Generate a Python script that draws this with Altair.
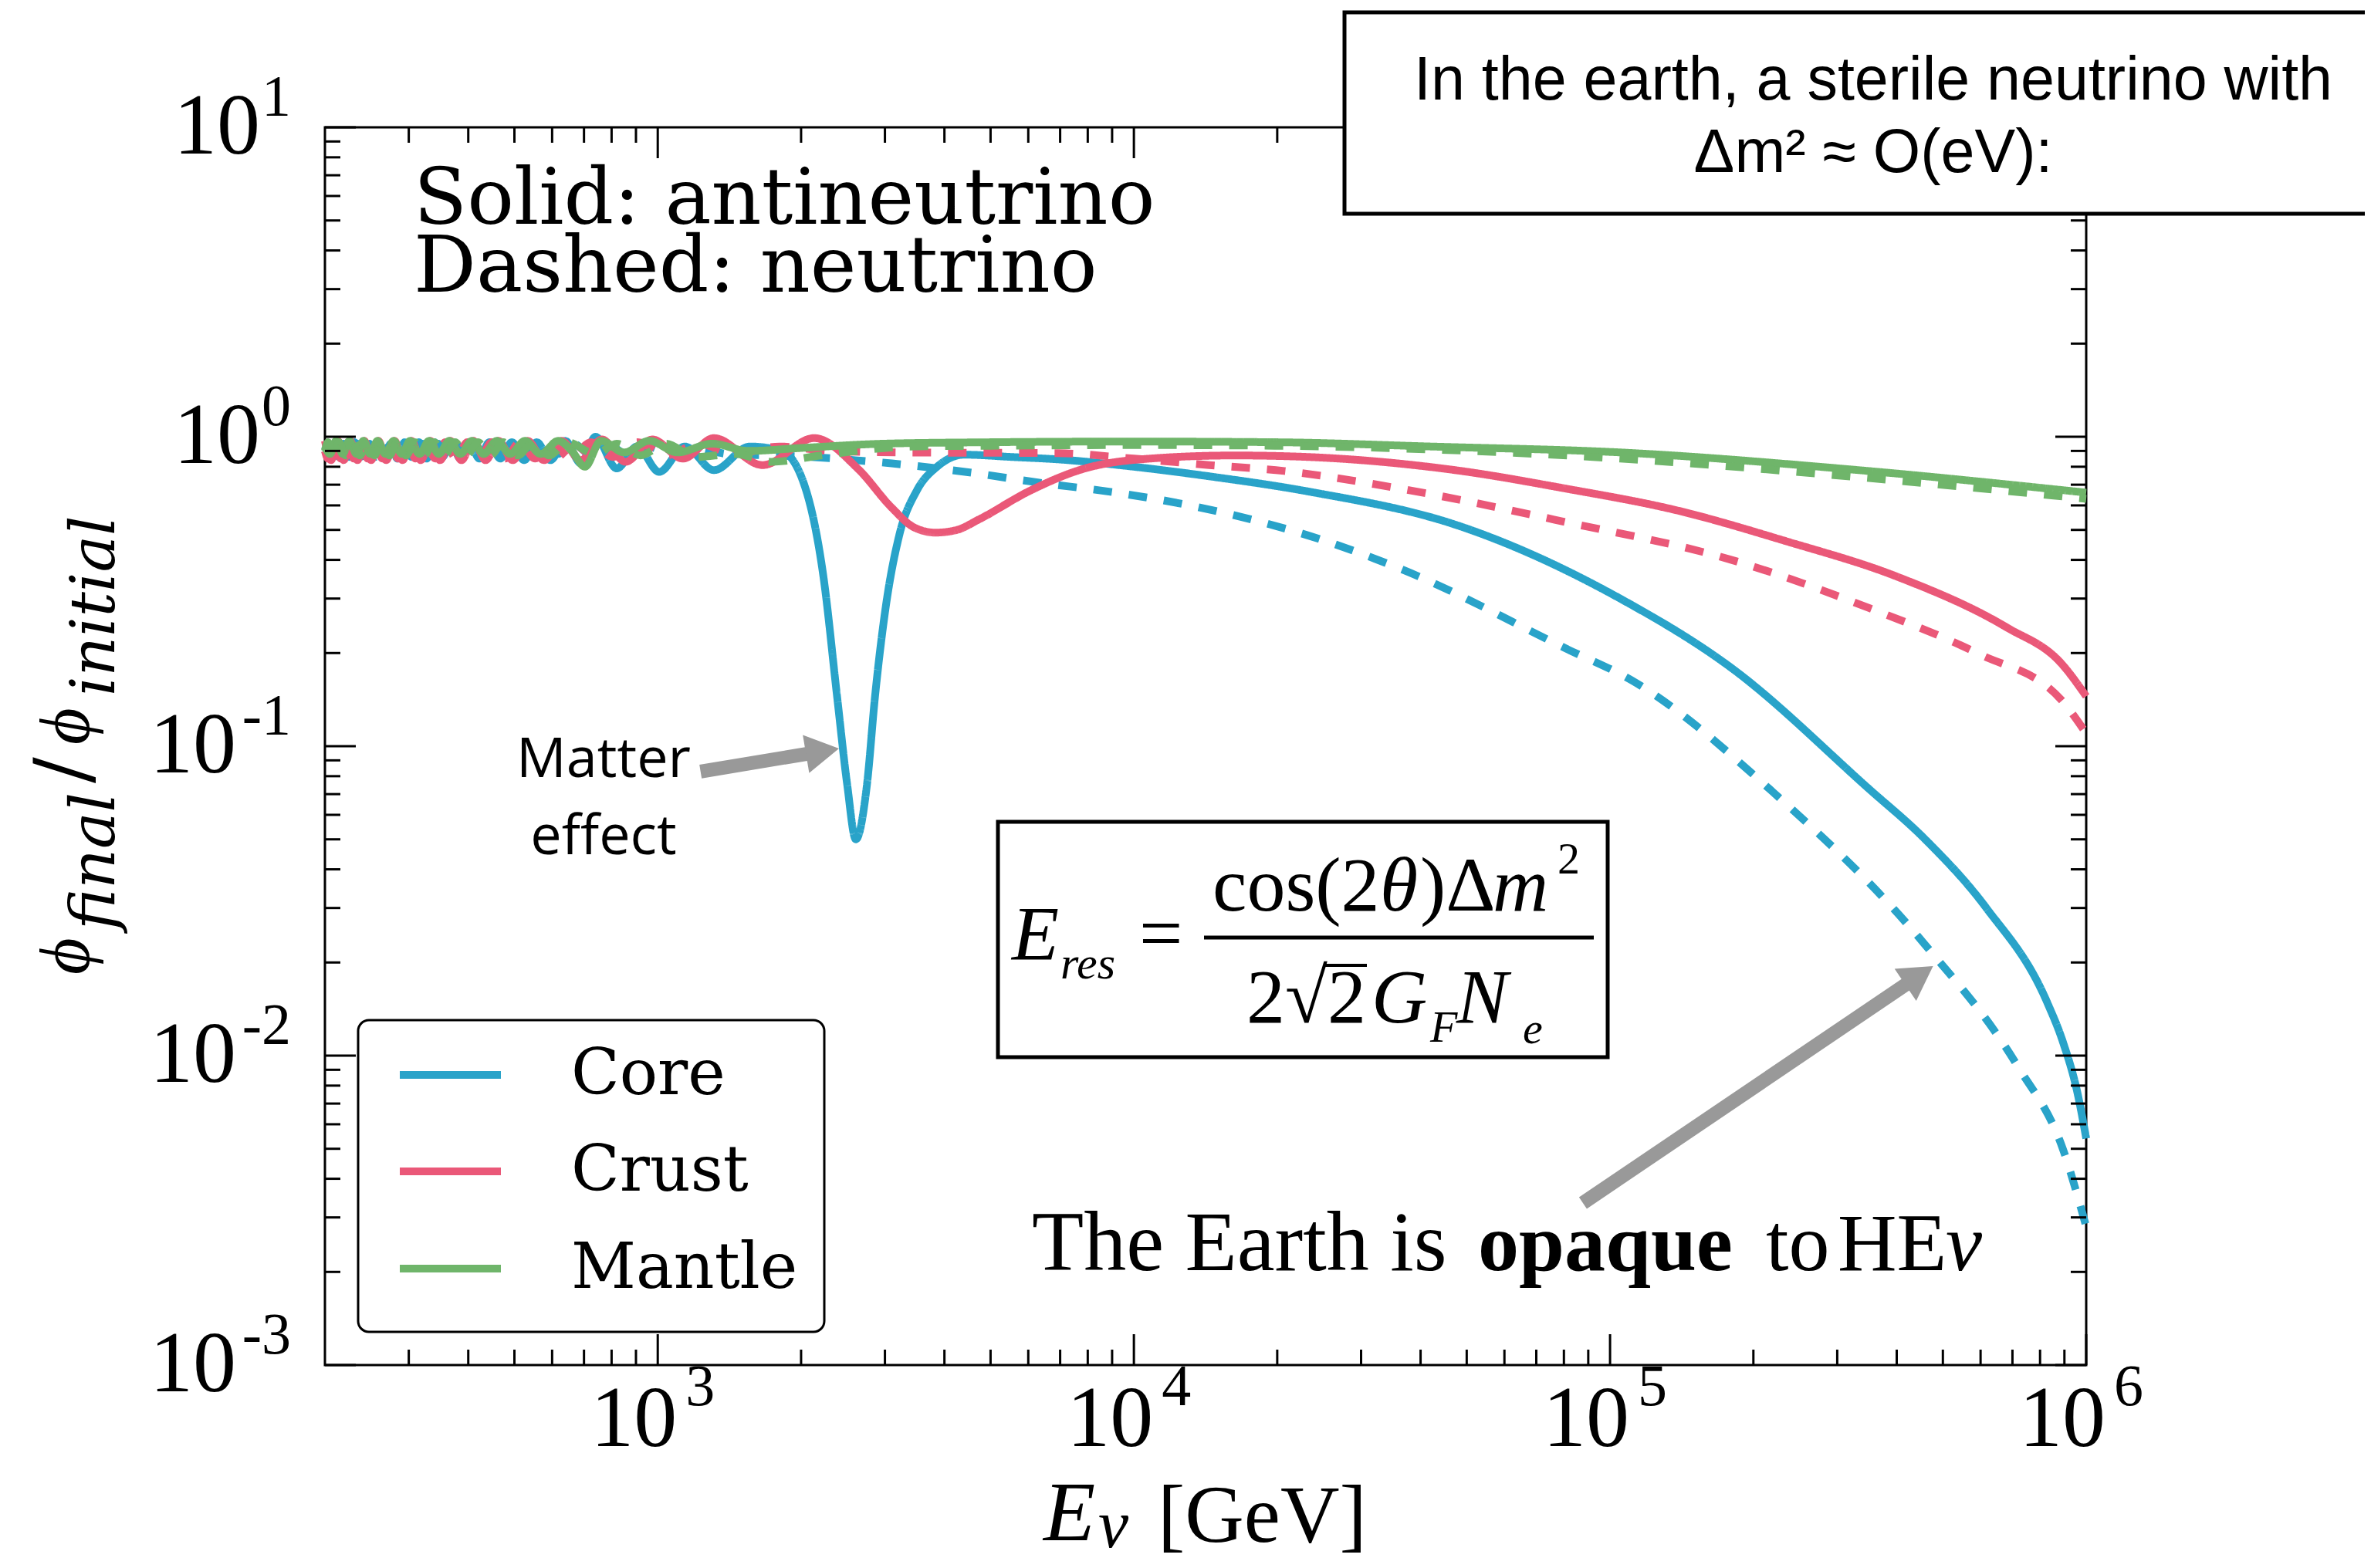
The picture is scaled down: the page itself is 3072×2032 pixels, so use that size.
import altair as alt
import pandas as pd

# ---------------- data ----------------
regions = ["Core", "Crust", "Mantle"]
region_colors = ["#29a3c9", "#ea5878", "#6fb56a"]
kinds = ["antineutrino", "neutrino"]

core_anti_E = [200, 204, 209, 214, 219, 225, 231, 238, 244, 251, 259, 267, 275, 284, 294, 304, 315,
               327, 340, 353, 368, 385, 402, 422, 443, 467, 494, 524, 557, 595, 639, 690, 740, 820,
               905, 1007, 1140, 1312, 1560, 1820, 2050, 2230, 2380, 2500, 2606, 2750, 2860, 3010,
               3220, 3500, 3860, 4400, 5560, 6930, 10000, 14400, 23300, 47300, 105000, 179000,
               349000, 459000, 617000, 829000, 893000, 960000, 1000000]
core_anti_r = [0.90, 0.86, 0.95, 0.86, 0.95, 0.86, 0.96, 0.86, 0.95, 0.85, 0.96, 0.86, 0.95, 0.85,
               0.96, 0.86, 0.96, 0.85, 0.96, 0.86, 0.96, 0.85, 0.96, 0.85, 0.96, 0.85, 0.96, 0.84,
               0.96, 0.84, 0.97, 0.82, 1.0, 0.79, 0.93, 0.77, 0.93, 0.78, 0.93, 0.90, 0.67, 0.35,
               0.145, 0.075, 0.05, 0.075, 0.145, 0.28, 0.485, 0.67, 0.80, 0.875, 0.86, 0.845, 0.80,
               0.745, 0.665, 0.52, 0.30, 0.18, 0.073, 0.050, 0.030, 0.0148, 0.0111, 0.0075, 0.0054]

core_nu_E = [200, 206, 211, 216, 222, 228, 234, 241, 248, 255, 263, 271, 280, 289, 299, 310, 321,
             333, 346, 360, 376, 393, 412, 432, 455, 480, 509, 540, 576, 617, 665, 720, 780, 860,
             950, 1070, 1200, 1400, 1735, 2100, 2600, 3100, 4420, 6360, 9160, 13100, 18500, 22200,
             36200, 80700, 112000, 220000, 459000, 716000, 893000, 1000000]
core_nu_r = [0.93, 0.86, 0.95, 0.87, 0.95, 0.86, 0.95, 0.87, 0.95, 0.86, 0.95, 0.87, 0.95, 0.86,
             0.95, 0.87, 0.95, 0.86, 0.95, 0.87, 0.95, 0.87, 0.95, 0.87, 0.95, 0.87, 0.95, 0.87,
             0.95, 0.88, 0.95, 0.88, 0.95, 0.88, 0.93, 0.88, 0.92, 0.88, 0.87, 0.86, 0.84, 0.82,
             0.77, 0.71, 0.66, 0.60, 0.53, 0.49, 0.375, 0.207, 0.162, 0.071, 0.0228, 0.0093,
             0.0050, 0.0028]

crust_anti_E = [200, 206, 213, 219, 226, 234, 242, 250, 259, 269, 280, 291, 304, 318, 333, 349, 367,
                387, 410, 435, 463, 496, 533, 577, 628, 689, 763, 856, 974, 1130, 1312, 1660, 2130,
                2640, 3100, 3450, 3830, 4250, 4720, 6060, 7780, 10800, 16300, 23300, 47300, 80700,
                137000, 234000, 399000, 681000, 887000, 1000000]
crust_anti_r = [0.97, 0.84, 0.97, 0.84, 0.97, 0.84, 0.97, 0.84, 0.97, 0.84, 0.97, 0.84, 0.97, 0.84,
                0.97, 0.84, 0.97, 0.84, 0.97, 0.84, 0.97, 0.84, 0.97, 0.84, 0.97, 0.84, 0.98, 0.83,
                0.98, 0.85, 0.99, 0.81, 0.99, 0.785, 0.59, 0.51, 0.49, 0.50, 0.54, 0.67, 0.785, 0.85,
                0.87, 0.86, 0.78, 0.68, 0.58, 0.46, 0.354, 0.242, 0.185, 0.145]

crust_nu_E = [200, 203, 209, 216, 223, 230, 238, 246, 255, 264, 274, 285, 297, 310, 325, 341, 358,
              377, 398, 422, 448, 478, 513, 553, 600, 656, 723, 805, 907, 1040, 1220, 1450, 1800,
              2300, 3270, 6930, 10000, 14400, 20700, 36200, 80700, 180000, 349000, 594000, 887000,
              1000000]
crust_nu_r = [0.90, 0.85, 0.96, 0.85, 0.96, 0.85, 0.96, 0.85, 0.96, 0.85, 0.96, 0.85, 0.96, 0.85,
              0.96, 0.85, 0.96, 0.85, 0.96, 0.85, 0.96, 0.85, 0.96, 0.85, 0.96, 0.85, 0.96, 0.86,
              0.96, 0.87, 0.95, 0.88, 0.93, 0.90, 0.89, 0.885, 0.85, 0.81, 0.775, 0.68, 0.53, 0.40,
              0.28, 0.199, 0.141, 0.11]

mantle_anti_E = [200, 205, 211, 218, 225, 233, 241, 249, 258, 268, 279, 290, 302, 316, 331, 347, 365,
                 385, 407, 431, 459, 490, 526, 568, 618, 660, 703, 760, 850, 960, 1100, 1300, 1550,
                 2000, 3000, 5000, 10000, 20000, 42000, 105000, 333000, 1000000]
mantle_anti_r = [0.93, 0.88, 0.97, 0.88, 0.97, 0.88, 0.97, 0.88, 0.97, 0.88, 0.97, 0.88, 0.97, 0.88,
                 0.97, 0.88, 0.97, 0.88, 0.97, 0.88, 0.97, 0.88, 0.97, 0.88, 0.97, 0.90, 0.80, 0.97,
                 0.89, 0.97, 0.89, 0.95, 0.90, 0.92, 0.95, 0.96, 0.965, 0.96, 0.93, 0.89, 0.78, 0.66]

mantle_nu_E = [200, 203, 208, 214, 221, 229, 237, 245, 254, 263, 273, 284, 296, 309, 323, 339, 356,
               375, 396, 419, 445, 474, 508, 547, 592, 645, 740, 820, 920, 1040, 1200, 1450, 1735,
               2200, 3400, 5000, 10000, 20000, 42000, 105000, 333000, 1000000]
mantle_nu_r = [0.90, 0.96, 0.87, 0.96, 0.87, 0.96, 0.87, 0.96, 0.87, 0.96, 0.87, 0.96, 0.87, 0.96,
               0.87, 0.96, 0.87, 0.96, 0.87, 0.96, 0.87, 0.96, 0.87, 0.96, 0.87, 0.96, 0.88, 0.95,
               0.87, 0.95, 0.86, 0.88, 0.83, 0.87, 0.93, 0.935, 0.94, 0.935, 0.91, 0.85, 0.74, 0.63]

x_major = [1e3, 1e4, 1e5, 1e6]
x_major_exp = ["3", "4", "5", "6"]
x_minor = [300, 400, 500, 600, 700, 800, 900,
           2000, 3000, 4000, 5000, 6000, 7000, 8000, 9000,
           20000, 30000, 40000, 50000, 60000, 70000, 80000, 90000,
           200000, 300000, 400000, 500000, 600000, 700000, 800000, 900000]
y_major = [10, 1, 0.1, 0.01, 0.001]
y_major_exp = ["1", "0", "-1", "-2", "-3"]
y_minor = [0.002, 0.003, 0.004, 0.005, 0.006, 0.007, 0.008, 0.009,
           0.02, 0.03, 0.04, 0.05, 0.06, 0.07, 0.08, 0.09,
           0.2, 0.3, 0.4, 0.5, 0.6, 0.7, 0.8, 0.9,
           2, 3, 4, 5, 6, 7, 8, 9]

# arrows (data coordinates: start, head centre)
matter_arrow = [1230, 0.0828, 2218, 0.0963]
opaque_arrow = [87700, 0.00334, 446000, 0.01816]

series = [
    ("Core", "antineutrino", core_anti_E, core_anti_r),
    ("Core", "neutrino", core_nu_E, core_nu_r),
    ("Crust", "antineutrino", crust_anti_E, crust_anti_r),
    ("Crust", "neutrino", crust_nu_E, crust_nu_r),
    ("Mantle", "antineutrino", mantle_anti_E, mantle_anti_r),
    ("Mantle", "neutrino", mantle_nu_E, mantle_nu_r),
]
rows = []
for reg, kind, es, rs in series:
    for e, r in zip(es, rs):
        rows.append({"E": e, "ratio": r, "region": reg, "kind": kind, "series": reg + "-" + kind})
df = pd.DataFrame(rows)

# ---------------- chart ----------------
W, H = 2282, 1604
xs = alt.Scale(type="log", domain=[200, 1e6], nice=False)
ys = alt.Scale(type="log", domain=[1e-3, 10], nice=False)
one = pd.DataFrame({"a": [0]})
SERIF = "Liberation Serif"

layers = []

for reg in regions:
    layers.append(
        alt.Chart(df).transform_filter(alt.datum.region == reg)
        .mark_line(strokeWidth=10, interpolate="monotone")
        .encode(
            x=alt.X("E:Q", scale=xs, axis=None),
            y=alt.Y("ratio:Q", scale=ys, axis=None),
            color=alt.Color("region:N", scale=alt.Scale(domain=regions, range=region_colors), legend=None),
            strokeDash=alt.StrokeDash("kind:N", scale=alt.Scale(domain=kinds, range=[[1, 0], [24, 22]]),
                                      legend=None),
            detail="series:N",
        )
    )

# ticks (inward, all four sides)
xmaj_df = pd.DataFrame({"v": x_major, "e": x_major_exp})
xmin_df = pd.DataFrame({"v": x_minor})
ymaj_df = pd.DataFrame({"v": y_major, "e": y_major_exp})
ymin_df = pd.DataFrame({"v": y_minor})
MAJ, MIN = 40, 20
for d, L in [(xmaj_df, MAJ), (xmin_df, MIN)]:
    layers.append(alt.Chart(d).mark_rule(color="black", strokeWidth=3).encode(
        x=alt.X("v:Q", scale=xs, axis=None), y=alt.value(H), y2=alt.value(H - L)))
    layers.append(alt.Chart(d).mark_rule(color="black", strokeWidth=3).encode(
        x=alt.X("v:Q", scale=xs, axis=None), y=alt.value(0), y2=alt.value(L)))
for d, L in [(ymaj_df, MAJ), (ymin_df, MIN)]:
    layers.append(alt.Chart(d).mark_rule(color="black", strokeWidth=3).encode(
        y=alt.Y("v:Q", scale=ys, axis=None), x=alt.value(0), x2=alt.value(L)))
    layers.append(alt.Chart(d).mark_rule(color="black", strokeWidth=3).encode(
        y=alt.Y("v:Q", scale=ys, axis=None), x=alt.value(W), x2=alt.value(W - L)))

# tick labels: "10" with a raised exponent
layers.append(alt.Chart(xmaj_df).mark_text(text="10", align="center", baseline="alphabetic", dx=-31,
                                           font=SERIF, fontSize=112, color="black").encode(
    x=alt.X("v:Q", scale=xs, axis=None), y=alt.value(H + 105)))
layers.append(alt.Chart(xmaj_df).mark_text(align="left", baseline="alphabetic", dx=36, font=SERIF,
                                           fontSize=76, color="black").encode(
    x=alt.X("v:Q", scale=xs, axis=None), y=alt.value(H + 52), text="e:N"))
layers.append(alt.Chart(ymaj_df).transform_filter(alt.datum.v >= 1).mark_text(
    text="10", align="right", baseline="middle", font=SERIF, fontSize=112, color="black").encode(
    y=alt.Y("v:Q", scale=ys, axis=None), x=alt.value(-84)))
layers.append(alt.Chart(ymaj_df).transform_filter(alt.datum.v < 1).mark_text(
    text="10", align="right", baseline="middle", font=SERIF, fontSize=112, color="black").encode(
    y=alt.Y("v:Q", scale=ys, axis=None), x=alt.value(-115)))
layers.append(alt.Chart(ymaj_df).mark_text(align="right", baseline="alphabetic", dy=-15, font=SERIF,
                                           fontSize=76, color="black").encode(
    y=alt.Y("v:Q", scale=ys, axis=None), x=alt.value(-44), text="e:N"))


def txt(s, x, y, size, font=SERIF, align="left", style="normal", weight="normal", angle=0,
        baseline="alphabetic"):
    kw = dict(text=s, align=align, baseline=baseline, font=font, fontSize=size, fontStyle=style,
              fontWeight=weight, color="black")
    if angle:
        kw["angle"] = angle
    return alt.Chart(one).mark_text(**kw).encode(x=alt.value(x), y=alt.value(y))


def box(x0, x1, y0, y1, sw, radius=0):
    kw = dict(fill="white", stroke="black", strokeWidth=sw)
    if radius:
        kw["cornerRadius"] = radius
    return alt.Chart(one).mark_rect(**kw).encode(
        x=alt.value(x0), x2=alt.value(x1), y=alt.value(y0), y2=alt.value(y1))


def hline(x0, x1, y, sw, color="black"):
    return alt.Chart(one).mark_rule(color=color, strokeWidth=sw).encode(
        x=alt.value(x0), x2=alt.value(x1), y=alt.value(y))


def arrow(a, ang):
    x0, y0, x1, y1 = a
    shaft = alt.Chart(one).mark_rule(color="#999999", strokeWidth=18).encode(
        x=alt.X(datum=x0, scale=xs, axis=None), x2=alt.X2(datum=x1),
        y=alt.Y(datum=y0, scale=ys, axis=None), y2=alt.Y2(datum=y1))
    head = alt.Chart(one).mark_point(shape="triangle-right", size=2500, filled=True, opacity=1,
                                     color="#999999", angle=ang, strokeWidth=0).encode(
        x=alt.X(datum=x1, scale=xs, axis=None), y=alt.Y(datum=y1, scale=ys, axis=None))
    return [shaft, head]


# legend
layers.append(box(43, 647, 1157, 1561, 3, radius=14))
for reg, col, yy in zip(regions, region_colors, [1228, 1353, 1479]):
    layers.append(hline(97, 228, yy, 10, color=col))
    layers.append(txt(reg, 319, yy, 82, font="DejaVu Serif", baseline="middle"))

# in-plot annotations
layers.append(txt("Solid: antineutrino", 115, 125, 101, font="DejaVu Serif"))
layers.append(txt("Dashed: neutrino", 115, 213, 101, font="DejaVu Serif"))
layers.append(txt("Matter", 361, 842, 72, font="Open Sans", align="center"))
layers.append(txt("effect", 361, 942, 72, font="Open Sans", align="center"))
layers += arrow(matter_arrow, 350.5)

layers.append(txt("The Earth is", 916, 1481, 110))
layers.append(txt("opaque", 1494, 1481, 106, weight="bold"))
layers.append(txt("to", 1867, 1481, 106))
layers.append(txt("HE", 1960, 1481, 106))
layers.append(txt("ν", 2100, 1481, 106, style="italic"))
layers += arrow(opaque_arrow, 325.9)

# resonance formula
layers.append(box(872, 1662, 900, 1205, 5))
layers.append(txt("E", 890, 1078, 100, style="italic"))
layers.append(txt("res", 953, 1103, 60, style="italic"))
layers.append(txt("=", 1055, 1078, 100))
layers.append(hline(1139, 1644, 1050, 5))
layers.append(txt("cos(2", 1150, 1015, 100))
layers.append(txt("θ", 1367, 1015, 100, style="italic"))
layers.append(txt(")Δ", 1419, 1015, 100))
layers.append(txt("m", 1513, 1015, 100, style="italic"))
layers.append(txt("2", 1597, 967, 58))
layers.append(txt("2√2", 1194, 1160, 100))
layers.append(hline(1296, 1350, 1086, 4))
layers.append(txt("G", 1356, 1160, 100, style="italic"))
layers.append(txt("F", 1432, 1185, 58, style="italic"))
layers.append(txt("N", 1466, 1160, 100, style="italic"))
layers.append(txt("e", 1552, 1187, 58, style="italic"))

# axis titles
layers.append(txt("E", 931, 1831, 110, style="italic"))
layers.append(txt("ν", 1002, 1840, 88, style="italic"))
layers.append(txt("[GeV]", 1079, 1833, 106))
YF = "Liberation Serif, DejaVu Serif"
layers.append(txt("ϕ", -306, 1098, 92, font=YF, style="italic", angle=270))
layers.append(txt("final", -273, 1040, 80, font="DejaVu Serif", style="italic", angle=270))
layers.append(txt("/", -306, 850, 100, font="DejaVu Serif", angle=270))
layers.append(txt("ϕ", -306, 800, 92, font=YF, style="italic", angle=270))
layers.append(txt("initial", -273, 737, 80, font="DejaVu Serif", style="italic", angle=270))

# info box (top right)
layers.append(box(1321, 2660, -149, 112, 5))
layers.append(txt("In the earth, a sterile neutrino with", 2006, -36, 79, font="Liberation Sans",
                  align="center"))
layers.append(txt("Δm² ≈ O(eV):", 2006, 58, 79, font="Liberation Sans", align="center"))

chart = (
    alt.layer(*layers)
    .properties(width=W, height=H,
                padding={"left": 413, "top": 157, "right": 361, "bottom": 255},
                autosize=alt.AutoSizeParams(type="none"), background="white")
    .configure_view(stroke="black", strokeWidth=3)
)

chart.save("out.html", embed_options={"renderer": "svg", "actions": False})
